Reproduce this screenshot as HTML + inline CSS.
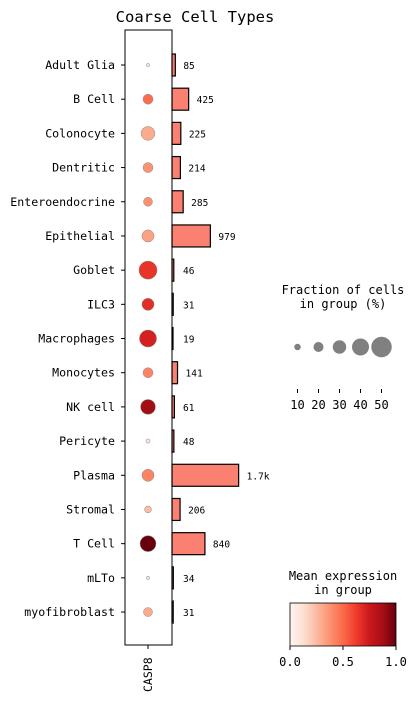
<!DOCTYPE html>
<html><head><meta charset="utf-8"><style>
body{margin:0;background:#fff;}
svg{display:block;font-family:"DejaVu Sans Mono","Liberation Mono",monospace;}
</style></head><body>
<svg id="c" width="416" height="701">
<defs><linearGradient id="reds" x1="0" x2="1" y1="0" y2="0">
<stop offset="0" stop-color="#fff5f0"/><stop offset="0.125" stop-color="#fee0d2"/><stop offset="0.25" stop-color="#fcbba1"/><stop offset="0.375" stop-color="#fc9272"/><stop offset="0.5" stop-color="#fb6a4a"/><stop offset="0.625" stop-color="#ef3b2c"/><stop offset="0.75" stop-color="#cb181d"/><stop offset="0.875" stop-color="#a50f15"/><stop offset="1" stop-color="#67000d"/>
</linearGradient></defs>
<text x="195" y="22" font-size="15.5" text-anchor="middle">Coarse Cell Types</text>
<rect x="125" y="30" width="47" height="615" fill="none" stroke="#000" stroke-width="1"/>
<text transform="translate(152,692) rotate(-90)" font-size="11.5">CASP8</text>
<line x1="148" y1="645" x2="148" y2="649" stroke="#000"/>
<g id="rows"></g>
<text x="343" y="294" font-size="12" text-anchor="middle">Fraction of cells</text>
<text x="343" y="308" font-size="12" text-anchor="middle">in group (%)</text>
<g id="sizeleg"></g>
<text x="343" y="580" font-size="12" text-anchor="middle">Mean expression</text>
<text x="343" y="594" font-size="12" text-anchor="middle">in group</text>
<rect x="290" y="603" width="106" height="43" fill="url(#reds)" stroke="#000" stroke-width="0.8"/>
<g id="cbticks"></g>
</svg>
<script>
const categories=["Adult Glia","B Cell","Colonocyte","Dentritic","Enteroendocrine","Epithelial","Goblet","ILC3","Macrophages","Monocytes","NK cell","Pericyte","Plasma","Stromal","T Cell","mLTo","myofibroblast"];
const fractions=[1,20,31,20,17,26,43,26,40,20,34,3,26,11,37,1,17];
const expression=[0.1,0.49,0.3,0.37,0.38,0.33,0.65,0.67,0.72,0.42,0.88,0.1,0.42,0.25,1.0,0.1,0.3];
const counts=[85,425,225,214,285,979,46,31,19,141,61,48,1700,206,840,34,31];
const countLabels=["85","425","225","214","285","979","46","31","19","141","61","48","1.7k","206","840","34","31"];
const sizeLegendValues=[10,20,30,40,50];
const colorTicks=[0,0.5,1];
const NS="http://www.w3.org/2000/svg";
const stops=[[0,[255,245,240]],[.125,[254,224,210]],[.25,[252,187,161]],[.375,[252,146,114]],[.5,[251,106,74]],[.625,[239,59,44]],[.75,[203,24,29]],[.875,[165,15,21]],[1,[103,0,13]]];
function reds(v){v=Math.max(0,Math.min(1,v));for(let i=1;i<stops.length;i++){if(v<=stops[i][0]){const a=stops[i-1],b=stops[i],t=(v-a[0])/(b[0]-a[0]);return "rgb("+a[1].map((c,k)=>Math.round(c+(b[1][k]-c)*t)).join(",")+")";}}return "rgb(103,0,13)";}
const yPos=i=>65+i*34.19;
const rScale=f=>1.5+0.175*f;
const xBar=c=>c*0.0392;
function mk(tag,attrs,parent){const e=document.createElementNS(NS,tag);for(const k in attrs)e.setAttribute(k,attrs[k]);parent.appendChild(e);return e;}
const rows=document.getElementById('rows');
categories.forEach((cat,i)=>{
 const y=yPos(i);
 const t=mk('text',{x:115,y:y+4,'font-size':11.6,'text-anchor':'end'},rows);t.textContent=cat;
 
 
 const tk=mk('line',{x1:121,x2:125,y1:y,y2:y,stroke:'#000'},rows);
 
 
 const d=mk('circle',{cx:148,cy:y,r:rScale(fractions[i]),fill:reds(expression[i]),stroke:'#888','stroke-width':0.5},rows);
 
 
 const w=Math.max(1,xBar(counts[i]));
 const b=mk('rect',{x:172,y:y-11,width:w,height:22,fill:'#fa8072',stroke:'#000','stroke-width':1.2},rows);
 
 
 const l=mk('text',{x:172+Math.max(w,3)+8,y:y+4,'font-size':9.5},rows);l.textContent=countLabels[i];
 
 
});
const sl=document.getElementById('sizeleg');
sizeLegendValues.forEach((v,i)=>{
 const x=297.5+i*21;
 const c=mk('circle',{cx:x,cy:347,r:rScale(v),fill:'#808080'},sl);
 
 
 const tk=mk('line',{x1:x,x2:x,y1:389,y2:393,stroke:'#000'},sl);
 
 
 const t=mk('text',{x:x,y:409,'font-size':12,'text-anchor':'middle'},sl);t.textContent=v;
 
 
});
const cb=document.getElementById('cbticks');
colorTicks.forEach(v=>{
 const x=290+v*106;
 const tk=mk('line',{x1:x,x2:x,y1:646,y2:650,stroke:'#000'},cb);
 
 
 const t=mk('text',{x:x,y:666,'font-size':12,'text-anchor':'middle'},cb);t.textContent=v.toFixed(1);
 
 
});
</script>
</body></html>
